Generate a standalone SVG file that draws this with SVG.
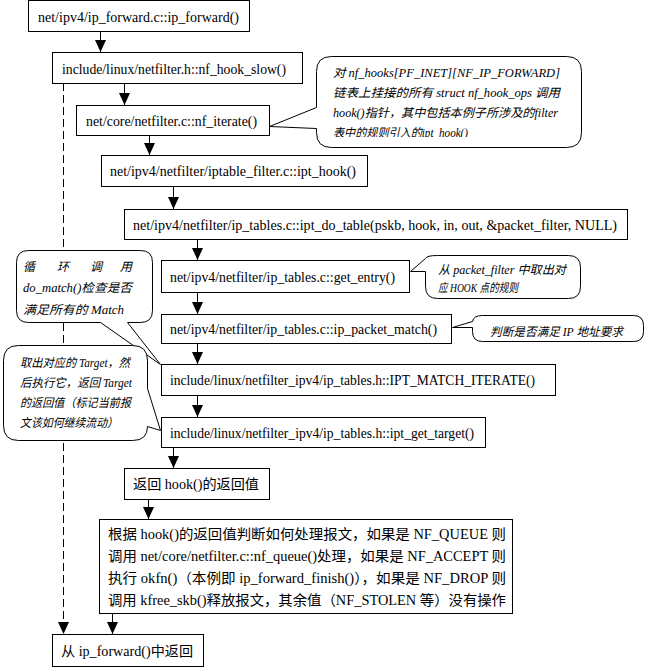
<svg xmlns="http://www.w3.org/2000/svg" width="648" height="669" viewBox="0 0 648 669">
<style>
.box{fill:#fff;stroke:#000;stroke-width:1}
.call{fill:#fff;stroke:#000;stroke-width:1}
.t{font-family:"Liberation Serif","Noto Sans CJK SC",serif;font-size:14px;fill:#000}
.c{font-family:"Liberation Serif","Noto Sans CJK SC",serif;font-size:12px;font-style:italic;fill:#000}
.ln{stroke:#000;stroke-width:1;fill:none}
.dash{stroke-dasharray:8,4}
</style>
<defs>
<marker id="ah" markerUnits="userSpaceOnUse" markerWidth="12" markerHeight="11" refX="12" refY="5.5" orient="auto" viewBox="0 0 12 11">
<path d="M0,0 L12,5.5 L0,11 z" fill="#000"/>
</marker>
<clipPath id="clip1"><rect x="316" y="56" width="265" height="81"/></clipPath>
</defs>
<rect width="648" height="669" fill="#fff"/>

<g id="connectors">
<line class="ln" x1="100.5" y1="31" x2="100.5" y2="52" marker-end="url(#ah)"/>
<line class="ln" x1="124.5" y1="83" x2="124.5" y2="105" marker-end="url(#ah)"/>
<line class="ln" x1="149.5" y1="135" x2="149.5" y2="155" marker-end="url(#ah)"/>
<line class="ln" x1="173.5" y1="186" x2="173.5" y2="209" marker-end="url(#ah)"/>
<line class="ln" x1="197.5" y1="239" x2="197.5" y2="260" marker-end="url(#ah)"/>
<line class="ln" x1="197.5" y1="292" x2="197.5" y2="314" marker-end="url(#ah)"/>
<line class="ln" x1="197.5" y1="343" x2="197.5" y2="364" marker-end="url(#ah)"/>
<line class="ln" x1="197.5" y1="395" x2="197.5" y2="417" marker-end="url(#ah)"/>
<line class="ln" x1="173.5" y1="447" x2="173.5" y2="468" marker-end="url(#ah)"/>
<line class="ln" x1="148.5" y1="499" x2="148.5" y2="519" marker-end="url(#ah)"/>
<line class="ln" x1="112.5" y1="613" x2="112.5" y2="634" marker-end="url(#ah)"/>
<line class="ln dash" x1="63.5" y1="83" x2="63.5" y2="634" marker-end="url(#ah)"/>
</g>

<g id="n1"><rect class="box" x="28.5" y="0.5" width="221" height="31"/><text class="t" x="38" y="22" textLength="201" lengthAdjust="spacingAndGlyphs">net/ipv4/ip_forward.c::ip_forward()</text></g>
<g id="n2"><rect class="box" x="52.5" y="52.5" width="250" height="31"/><text class="t" x="62" y="74" textLength="224" lengthAdjust="spacingAndGlyphs">include/linux/netfilter.h::nf_hook_slow()</text></g>
<g id="n3"><rect class="box" x="76.5" y="105.5" width="193" height="30"/><text class="t" x="86" y="126" textLength="171" lengthAdjust="spacingAndGlyphs">net/core/netfilter.c::nf_iterate()</text></g>
<g id="n4"><rect class="box" x="101.5" y="155.5" width="266" height="31"/><text class="t" x="110" y="176" textLength="246" lengthAdjust="spacingAndGlyphs">net/ipv4/netfilter/iptable_filter.c::ipt_hook()</text></g>
<g id="n5"><rect class="box" x="124.5" y="209.5" width="503" height="30"/><text class="t" x="133" y="230" textLength="484" lengthAdjust="spacingAndGlyphs">net/ipv4/netfilter/ip_tables.c::ipt_do_table(pskb, hook, in, out, &amp;packet_filter, NULL)</text></g>
<g id="n6"><rect class="box" x="161.5" y="260.5" width="248" height="32"/><text class="t" x="170" y="282" textLength="225" lengthAdjust="spacingAndGlyphs">net/ipv4/netfilter/ip_tables.c::get_entry()</text></g>
<g id="n7"><rect class="box" x="161.5" y="314.5" width="290" height="29"/><text class="t" x="170" y="334" textLength="267" lengthAdjust="spacingAndGlyphs">net/ipv4/netfilter/ip_tables.c::ip_packet_match()</text></g>
<g id="n8"><rect class="box" x="161.5" y="364.5" width="394" height="31"/><text class="t" x="170" y="385" textLength="365" lengthAdjust="spacingAndGlyphs">include/linux/netfilter_ipv4/ip_tables.h::IPT_MATCH_ITERATE()</text></g>
<g id="n9"><rect class="box" x="161.5" y="417.5" width="324" height="30"/><text class="t" x="170" y="438" textLength="304" lengthAdjust="spacingAndGlyphs">include/linux/netfilter_ipv4/ip_tables.h::ipt_get_target()</text></g>
<g id="n10"><rect class="box" x="124.5" y="468.5" width="145" height="31"/><text class="t" x="133" y="489" textLength="126" lengthAdjust="spacingAndGlyphs">返回 hook()的返回值</text></g>
<g id="n11"><rect class="box" x="99.5" y="519.5" width="413" height="94"/>
<text class="t" x="108" y="539" textLength="398" lengthAdjust="spacingAndGlyphs">根据 hook()的返回值判断如何处理报文，如果是 NF_QUEUE 则</text>
<text class="t" x="108" y="561" textLength="398" lengthAdjust="spacingAndGlyphs">调用 net/core/netfilter.c::nf_queue()处理，如果是 NF_ACCEPT 则</text>
<text class="t" x="108" y="583" textLength="398" lengthAdjust="spacingAndGlyphs">执行 okfn()（本例即 ip_forward_finish()），如果是 NF_DROP 则</text>
<text class="t" x="108" y="605" textLength="398" lengthAdjust="spacingAndGlyphs">调用 kfree_skb()释放报文，其余值（NF_STOLEN 等）没有操作</text>
</g>
<g id="n12"><rect class="box" x="52.5" y="634.5" width="151" height="32"/><text class="t" x="61" y="656" textLength="132" lengthAdjust="spacingAndGlyphs">从 ip_forward()中返回</text></g>

<g id="callout1">
<path class="call" d="M331.5,56.5 H566.5 Q581.5,56.5 581.5,71.5 V132.5 Q581.5,147.5 566.5,147.5 H331.5 Q316.5,147.5 316.5,132.5 V128.5 L269.5,126.5 L316.5,107.5 V71.5 Q316.5,56.5 331.5,56.5 Z"/>
<g clip-path="url(#clip1)">
<text class="c" x="333" y="77" textLength="227" lengthAdjust="spacingAndGlyphs">对  nf_hooks[PF_INET][NF_IP_FORWARD]</text>
<text class="c" x="333" y="97" textLength="227" lengthAdjust="spacingAndGlyphs">链表上挂接的所有 struct nf_hook_ops 调用</text>
<text class="c" x="333" y="117" textLength="225" lengthAdjust="spacingAndGlyphs">hook()指针，其中包括本例子所涉及的filter</text>
<text class="c" x="333" y="137" textLength="135" lengthAdjust="spacingAndGlyphs">表中的规则引入的ipt_hook()</text>
</g>
</g>

<g id="callout2">
<path class="call" d="M28.5,250.5 H140.5 Q152.5,250.5 152.5,262.5 V310.5 Q152.5,322.5 140.5,322.5 H127.5 L160.5,364.5 L100.5,322.5 H28.5 Q16.5,322.5 16.5,310.5 V262.5 Q16.5,250.5 28.5,250.5 Z"/>
<text class="c" y="271"><tspan x="23">循</tspan><tspan x="57">环</tspan><tspan x="90">调</tspan><tspan x="120">用</tspan></text>
<text class="c" x="23" y="292" textLength="109" lengthAdjust="spacingAndGlyphs">do_match()检查是否</text>
<text class="c" x="23" y="314" textLength="101" lengthAdjust="spacingAndGlyphs">满足所有的 Match</text>
</g>

<g id="callout3">
<path class="call" d="M18.5,345.5 H132.5 Q147.5,345.5 147.5,360.5 V388.5 L160.5,430.5 L147.5,426.5 Q147.5,440.5 132.5,440.5 H18.5 Q3.5,440.5 3.5,425.5 V360.5 Q3.5,345.5 18.5,345.5 Z"/>
<text class="c" x="20" y="367" textLength="110" lengthAdjust="spacingAndGlyphs">取出对应的 Target，然</text>
<text class="c" x="20" y="387" textLength="112" lengthAdjust="spacingAndGlyphs">后执行它，返回 Target</text>
<text class="c" x="20" y="407" textLength="111" lengthAdjust="spacingAndGlyphs">的返回值（标记当前报</text>
<text class="c" x="20" y="427" textLength="98" lengthAdjust="spacingAndGlyphs">文该如何继续流动）</text>
</g>

<g id="callout4">
<path class="call" d="M437.5,255.5 H568.5 Q580.5,255.5 580.5,267.5 V286.5 Q580.5,298.5 568.5,298.5 H437.5 Q425.5,298.5 425.5,286.5 V271.5 L410.5,271.5 L425.5,258.5 Q426.5,255.5 437.5,255.5 Z"/>
<text class="c" x="438" y="274" textLength="128" lengthAdjust="spacingAndGlyphs">从 packet_filter 中取出对</text>
<text class="c" x="438" y="292" textLength="80" lengthAdjust="spacingAndGlyphs">应 HOOK 点的规则</text>
</g>

<g id="callout5">
<path class="call" d="M482.5,315.5 H633.5 Q643.5,315.5 643.5,325.5 V331.5 Q643.5,341.5 633.5,341.5 H482.5 Q472.5,341.5 472.5,331.5 V327.5 L452.5,327.5 L472.5,321.5 Q473.5,315.5 482.5,315.5 Z"/>
<text class="c" x="490" y="336" textLength="133" lengthAdjust="spacingAndGlyphs">判断是否满足 IP 地址要求</text>
</g>
</svg>
